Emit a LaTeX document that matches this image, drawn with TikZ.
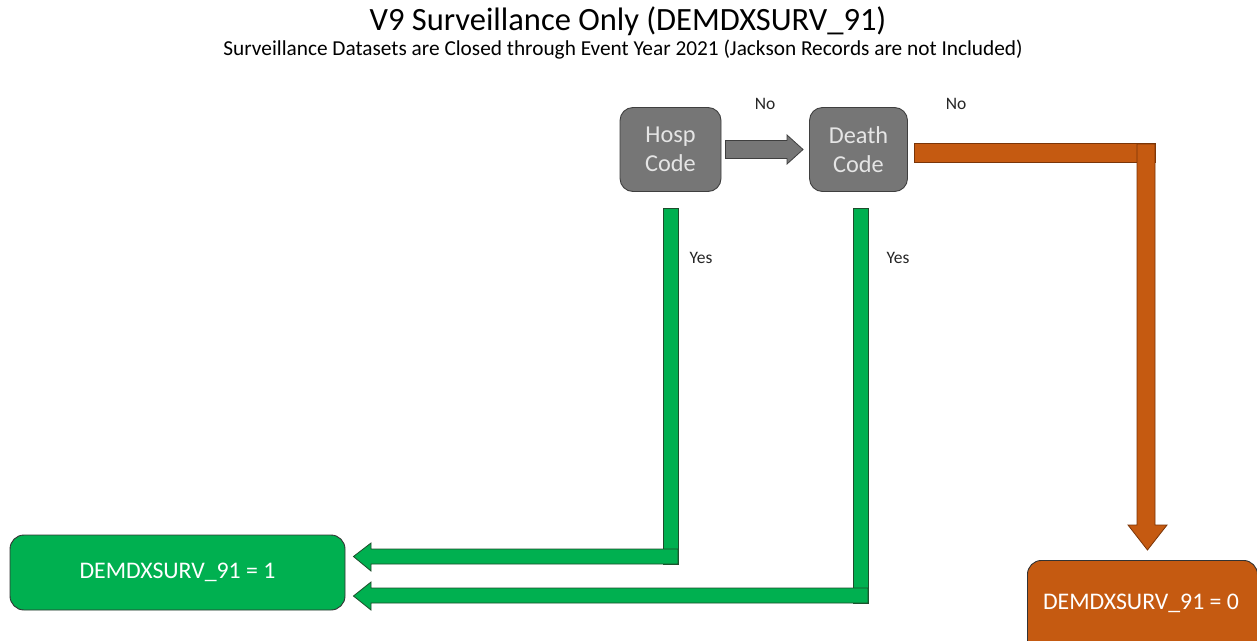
\documentclass[tikz,border=0pt]{standalone}
\usepackage{fontspec}
\setmainfont{Carlito}
\usetikzlibrary{calc}
\definecolor{boxgray}{HTML}{767676}
\definecolor{edgegray}{HTML}{3F3F3F}
\definecolor{mygreen}{HTML}{00B050}
\definecolor{myorange}{HTML}{C55A11}
\definecolor{darkorange}{HTML}{7A3508}
\definecolor{darkgreen}{HTML}{1E4D2B}
\begin{document}
\begin{tikzpicture}[x=1pt,y=-1pt,
  decision/.style={draw=edgegray, line width=0.9pt, fill=boxgray, rounded corners=13pt,
    minimum width=100pt, minimum height=84pt, text=white!90!black, font=\fontsize{24.3}{28.5}\selectfont, align=center, inner sep=0pt},
  result/.style={draw=black!80, line width=0.9pt, rounded corners=14pt, text=white,
    font=\fontsize{23.8}{28}\selectfont, inner sep=0pt},
  lbl/.style={font=\fontsize{17.5}{20}\selectfont, text=black!85, inner sep=0pt},
  garrow/.style={fill=mygreen, draw=darkgreen, line width=0.8pt, line join=miter},
  oarrow/.style={fill=myorange, draw=darkorange, line width=0.8pt, line join=miter},
  grarrow/.style={fill=boxgray, draw=edgegray, line width=0.8pt, line join=miter}]
\useasboundingbox (0,0) rectangle (1257,640);
\fill[white] (0,0) rectangle (1257,640);

% titles
\node[font=\fontsize{32.5}{38}\selectfont, inner sep=0pt] (title) at (628,21) {V9 Surveillance Only (DEMDXSURV\_91)};
\node[font=\fontsize{21.3}{25}\selectfont, inner sep=0pt] (sub) at (623,50) {Surveillance Datasets are Closed through Event Year 2021 (Jackson Records are not Included)};

% decision boxes
\node[decision, minimum width=101pt] (hosp) at (670.5,149.5) {Hosp\\Code};
\node[decision, minimum width=98pt] (death) at (858.5,149.5) {Death\\Code};

% result boxes
\node[result, fill=mygreen, minimum width=335pt, minimum height=75pt] (one) at (177.5,572.5) {DEMDXSURV\_91 = 1};
\node[result, fill=myorange, minimum width=230pt, minimum height=100pt, anchor=north west] (zero) at (1027,560) {};
\node[text=white, font=\fontsize{23.8}{28}\selectfont, inner sep=0pt] (zerotxt) at (1141,603) {DEMDXSURV\_91 = 0};

% labels
\node[lbl] (no1) at (765,104) {No};
\node[lbl] (no2) at (956,104) {No};
\node[lbl] (yes1) at (701,258) {Yes};
\node[lbl] (yes2) at (898,258) {Yes};

% gray arrow hosp -> death
\draw[grarrow] ($(hosp.east)+(4,-9)$) -- (787,140.5) -- (787,135) -- ($(death.west)+(-6,0)$) -- (787,164) -- (787,158.5) -- ($(hosp.east)+(4,9)$) -- cycle;

% orange arrow death -> zero
\draw[oarrow] ($(death.east)+(6,-6)$) rectangle (1155,162);
\draw[oarrow] (1137,144) -- (1155,144) -- (1155,525) -- (1167,525) -- ($(zero.north)+(5,-10)$) -- (1128,525) -- (1137,525) -- cycle;

% green arrow hosp -> one
\draw[garrow] (663,208) -- (678,208) -- (678,564) -- (663,564) -- cycle;
\draw[garrow] (678,549) -- (678,564) -- (371,564) -- (371,571) -- ($(one.east)+(8,-16)$) -- (371,543) -- (371,549) -- cycle;

% green arrow death -> one
\draw[garrow] (853,208) -- (868,208) -- (868,603) -- (853,603) -- cycle;
\draw[garrow] (868,588) -- (868,603) -- (371,603) -- (371,610) -- ($(one.east)+(8,23.5)$) -- (371,582) -- (371,588) -- cycle;
\end{tikzpicture}
\end{document}
